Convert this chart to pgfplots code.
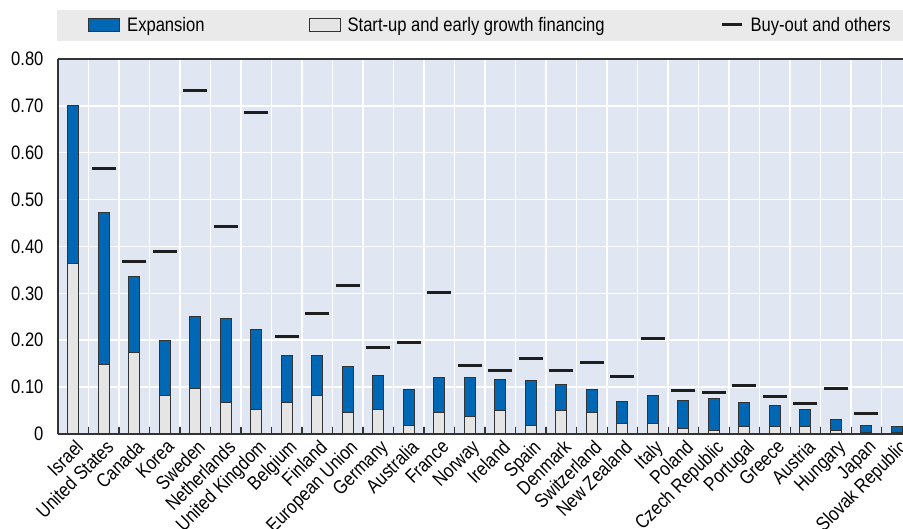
\documentclass[border=0pt]{standalone}
\usepackage{fontspec}
\setmainfont{Liberation Sans}[FakeStretch=0.85]
\usepackage{pgfplots}
\pgfplotsset{compat=1.18}
\usepackage{pgfplotstable}
\definecolor{bgblue}{RGB}{224,231,243}
\definecolor{expblue}{RGB}{0,103,180}
\definecolor{startgray}{RGB}{229,229,229}
\definecolor{legendgray}{RGB}{234,234,234}
\definecolor{edgegray}{RGB}{51,51,51}
\definecolor{dashblack}{RGB}{30,30,30}

% idx, start-up and early growth, expansion, buy-out and others (% of GDP)
\pgfplotstableread{
idx startup expansion buyout
0  0.363 0.338 nan
1  0.148 0.325 0.567
2  0.174 0.163 0.369
3  0.083 0.117 0.389
4  0.098 0.152 0.733
5  0.068 0.178 0.442
6  0.053 0.170 0.685
7  0.068 0.099 0.207
8  0.083 0.084 0.256
9  0.046 0.098 0.317
10 0.053 0.072 0.184
11 0.019 0.076 0.195
12 0.046 0.075 0.302
13 0.037 0.084 0.147
14 0.050 0.067 0.135
15 0.019 0.095 0.161
16 0.050 0.056 0.135
17 0.046 0.049 0.153
18 0.022 0.047 0.123
19 0.022 0.061 0.203
20 0.011 0.061 0.093
21 0.007 0.068 0.089
22 0.015 0.053 0.104
23 0.015 0.045 0.081
24 0.015 0.038 0.066
25 0.007 0.023 0.096
26 0.004 0.015 0.044
27 0.003 0.012 nan
}\data

\begin{document}
\begin{tikzpicture}
\begin{axis}[
  scale only axis, width=845pt, height=375pt,
  xmin=-0.5, xmax=27.2, ymin=0, ymax=0.8,
  axis background/.style={fill=bgblue},
  axis line style={draw=none},
  xtick={0,...,27},
  xticklabels={Israel, United States, Canada, Korea, Sweden, Netherlands, United Kingdom, Belgium, Finland, European Union, Germany, Australia, France, Norway, Ireland, Spain, Denmark, Switzerland, New Zealand, Italy, Poland, Czech Republic, Portugal, Greece, Austria, Hungary, Japan, Slovak Republic},
  minor xtick={-0.5,0.5,...,26.5},
  xminorgrids, ymajorgrids,
  grid style={white, line width=1.5pt},
  minor grid style={white, line width=1.5pt},
  ytick={0,0.1,0.2,0.3,0.4,0.5,0.6,0.7,0.8},
  yticklabels={0,0.10,0.20,0.30,0.40,0.50,0.60,0.70,0.80},
  major tick length=0pt,
  minor tick length=7pt,
  tick align=inside,
  xtick pos=bottom, ytick pos=left,
  minor x tick style={draw=edgegray, line width=1.2pt},
  tick label style={font=\fontsize{19.5}{22}\selectfont},
  xticklabel style={yshift=-3pt, xshift=1pt, rotate=45, anchor=north east, inner sep=1pt},
  yticklabel style={xshift=-11pt},
  clip=false,
  legend columns=3,
  legend cell align=left,
  legend style={at={(axis description cs:0,1.0907)}, anchor=west, xshift=30pt,
    draw=none, fill=none, inner xsep=0pt, inner ysep=0pt,
    font=\fontsize{19.5}{22}\selectfont,
    /tikz/column 1/.style={column sep=5pt},
    /tikz/column 2/.style={column sep=102pt},
    /tikz/column 3/.style={column sep=5pt},
    /tikz/column 4/.style={column sep=114pt},
    /tikz/column 5/.style={column sep=5pt}},
]
\fill[legendgray] (axis description cs:-0.001,1.048) rectangle (axis description cs:1,1.1307);

\addplot[ybar, bar width=11pt, bar shift=0pt, fill=expblue, draw=edgegray, line width=1pt,
  legend image code/.code={\draw[fill=expblue, draw=edgegray, line width=1pt] (0pt,-6.5pt) rectangle (31pt,6.5pt);}]
  table[x=idx, y expr=\thisrow{startup}+\thisrow{expansion}] {\data};
\addlegendentry{Expansion}

\addplot[ybar, bar width=11pt, bar shift=0pt, fill=startgray, draw=edgegray, line width=1pt,
  legend image code/.code={\draw[fill=startgray, draw=edgegray, line width=1pt] (0pt,-6.5pt) rectangle (31pt,6.5pt);}]
  table[x=idx, y=startup] {\data};
\addlegendentry{Start-up and early growth financing}

\addplot[only marks, mark=-, mark size=12pt, mark options={line width=3pt, draw=dashblack},
  legend image code/.code={\draw[line width=3pt, dashblack] (0pt,0pt) -- (20pt,0pt);}]
  table[x=idx, y=buyout] {\data};
\addlegendentry{Buy-out and others}

\draw[edgegray, line width=1.5pt] (rel axis cs:0,0) -- (rel axis cs:0,1);
\draw[edgegray, line width=2pt] (rel axis cs:0,1) -- (rel axis cs:1,1);
\draw[edgegray, line width=2.3pt] (rel axis cs:0,0) -- (rel axis cs:1,0);
\end{axis}
\pgfresetboundingbox
\path ([xshift=-58pt,yshift=-95pt]current axis.south west) rectangle ([yshift=59pt]current axis.north east);
\end{tikzpicture}
\end{document}
